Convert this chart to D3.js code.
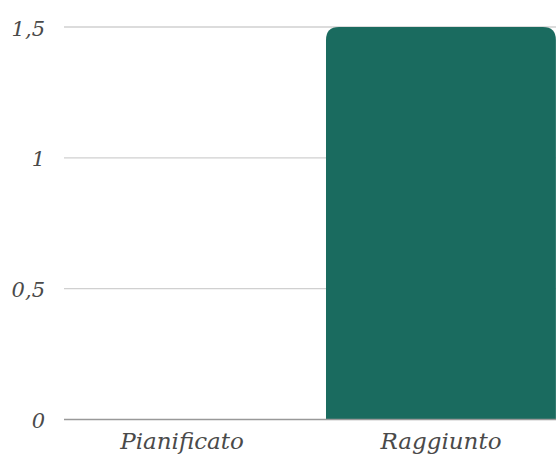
<!DOCTYPE html>
<html><head><meta charset="utf-8">
<script src="https://cdn.jsdelivr.net/npm/d3@7"></script>
<style>html,body{margin:0;padding:0;background:#fff;overflow:hidden}
text{font-family:"DejaVu Serif", serif;font-style:italic}</style>
</head><body><svg id="c" width="556" height="457"></svg>
<script>
const categories = ["Pianificato", "Raggiunto"];
const values = [0, 1.5];
const tickValues = [0, 0.5, 1, 1.5];
const tickLabels = ["0", "0,5", "1", "1,5"];

const svg = d3.select("#c");
const x = d3.scaleBand().domain(categories).range([64, 559]).paddingInner(0.112).paddingOuter(0.012);
const y = d3.scaleLinear().domain([0, 1.5]).range([419.5, 27]);

svg.append("g").selectAll("line").data(tickValues.filter(v => v > 0)).join("line")
  .attr("x1", 64).attr("x2", 556)
  .attr("y1", d => y(d)).attr("y2", d => y(d))
  .attr("stroke", "#d0d0d0").attr("stroke-width", 1.3);

const r = 13;
svg.append("g").selectAll("path").data(categories.map((c, i) => ({c, v: values[i]}))).join("path")
  .attr("fill", "#1a6b5f")
  .attr("d", d => {
    const x0 = x(d.c), x1 = x0 + x.bandwidth(), yt = y(d.v), yb = y(0);
    if (d.v <= 0) return "";
    const rr = Math.min(r, (yb - yt));
    return `M${x0},${yb}L${x0},${yt + rr}Q${x0},${yt} ${x0 + rr},${yt}L${x1 - rr},${yt}Q${x1},${yt} ${x1},${yt + rr}L${x1},${yb}Z`;
  });

svg.append("line").attr("x1", 64).attr("x2", 556).attr("y1", y(0)).attr("y2", y(0))
  .attr("stroke", "#999").attr("stroke-width", 1.5);

svg.append("g").selectAll("text").data(tickValues).join("text")
  .attr("x", 45).attr("y", d => y(d) + 8.5)
  .attr("text-anchor", "end")
  .attr("font-size", 21)
  .attr("fill", "#4a4a4a")
  .text((d, i) => tickLabels[i]);

svg.append("g").selectAll("text").data(categories).join("text")
  .attr("x", d => x(d) + x.bandwidth() / 2).attr("y", 449)
  .attr("text-anchor", "middle")
  .attr("font-size", 23)
  .attr("fill", "#4a4a4a")
  .text(d => d);
</script></body></html>
